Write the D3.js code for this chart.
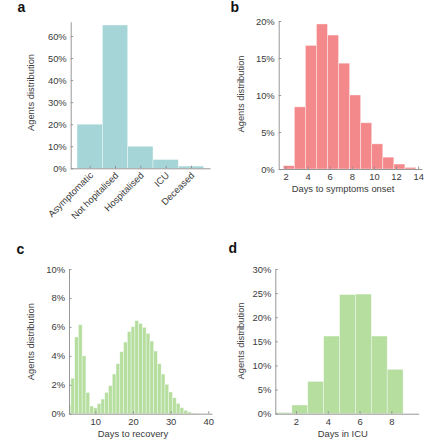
<!DOCTYPE html>
<html><head><meta charset="utf-8">
<script src="https://cdn.jsdelivr.net/npm/d3@7"></script>
<style>
body{margin:0;background:#fff;}
svg{display:block;font-family:"Liberation Sans",Arial,sans-serif;}
</style></head>
<body>
<svg id="chart" width="424" height="440"></svg>
<script>
// ---- data ----
const outcomeCategories = ["Asymptomatic","Not hopitalised","Hospitalised","ICU","Deceased"];
const outcomeValues = [20, 65, 10, 4, 1];

const onsetDays = [2,3,4,5,6,7,8,9,10,11,12,13];
const onsetValues = [0.45,8.4,16.7,19.6,18.1,14.3,10.0,6.25,3.4,1.6,0.67,0.22];

const recoveryDays = [3,4,5,6,7,8,9,10,11,12,13,14,15,16,17,18,19,20,21,22,23,24,25,26,27,28,29,30,31,32,33,34,35,36,37,38,39,40];
const recoveryValues = [0.6,2.45,5.3,6.15,4.0,1.47,0.53,0.41,0.69,1.01,1.47,1.94,2.74,3.46,4.29,4.95,5.67,6.01,6.43,6.24,5.97,5.55,5.02,4.33,3.46,2.74,2.03,1.5,1.1,0.71,0.41,0.23,0.12,0.05,0.03,0.02,0.01,0.01];

const icuDays = [1,2,3,4,5,6,7,8];
const icuValues = [0.25,1.8,6.7,16.1,24.7,24.8,16.1,9.2];

const ticksA = [0,10,20,30,40,50,60];
const ticksB = [0,5,10,15,20];
const ticksC = [0,2,4,6,8,10];
const ticksD = [0,5,10,15,20,25,30];
const xTicksB = [2,4,6,8,10,12,14];
const xTicksC = [10,20,30,40];
const xTicksD = [2,4,6,8];

// ---- styling ----
const svg = d3.select("#chart");
const axisColor = "#8c8c8c";
const textColor = "#3a3a3a";
const fs = 9.4;

function styleAxis(g){
  g.select(".domain").attr("stroke", axisColor).attr("stroke-width", 0.9);
  g.selectAll(".tick line").attr("stroke", axisColor).attr("stroke-width", 0.9);
  g.selectAll(".tick text").attr("fill", textColor).attr("font-size", fs).attr("font-family", '"Liberation Sans",Arial,sans-serif');
}

function panel(opts){
  const x = d3.scaleLinear().domain(opts.xDomain).range(opts.xRange);
  const y = d3.scaleLinear().domain(opts.yDomain).range(opts.yRange);
  const g = svg.append("g");
  // bars
  g.selectAll("rect.bar").data(opts.data).join("rect")
    .attr("class","bar")
    .attr("x", d => x(Math.max(opts.xDomain[0], d.k + opts.off)))
    .attr("width", d => x(d.k + opts.off + 1) - x(Math.max(opts.xDomain[0], d.k + opts.off)))
    .attr("y", d => y(d.v))
    .attr("height", d => y(0) - y(d.v))
    .attr("fill", opts.color)
    .attr("stroke", "#ffffff").attr("stroke-opacity", 0.55).attr("stroke-width", 0.7);
  // y axis
  const ya = g.append("g").attr("transform", `translate(${opts.xRange[0]},0)`)
    .call(d3.axisLeft(y).tickValues(opts.yTicks).tickFormat(d => d + "%").tickSizeInner(-2.5).tickSizeOuter(0).tickPadding(4));
  styleAxis(ya);
  // x axis
  const xa = g.append("g").attr("transform", `translate(0,${opts.yRange[0]})`)
    .call(d3.axisBottom(x).tickValues(opts.xTicks).tickFormat(opts.xFormat || (d => d)).tickSizeInner(-2.5).tickSizeOuter(0).tickPadding(opts.xPad || 4.3));
  styleAxis(xa);
  // y title
  svg.append("text")
    .attr("transform", `translate(${opts.yTitleX},${opts.yTitleY}) rotate(-90)`)
    .attr("text-anchor","middle").attr("font-size", fs).attr("fill", textColor)
    .text("Agents distribution");
  if (opts.xTitle){
    svg.append("text").attr("x", opts.xTitleX).attr("y", opts.xTitleY)
      .attr("text-anchor","middle").attr("font-size", fs).attr("fill", textColor)
      .text(opts.xTitle);
  }
  svg.append("text").attr("x", opts.labelX).attr("y", opts.labelY)
    .attr("font-size", 14).attr("font-weight","bold").attr("fill","#111")
    .text(opts.label);
  return {x, y, g};
}

// panel a
const pa = panel({
  data: outcomeValues.map((v,i)=>({k:i+1, v})),
  off: -0.5,
  xDomain:[0.25,5.75], xRange:[70.7,210],
  yDomain:[0,66.5], yRange:[168.3,21.7],
  yTicks: ticksA, xTicks:[1,2,3,4,5], xFormat: () => "",
  color:"#a5d5d7",
  yTitleX:34, yTitleY:92.5,
  label:"a", labelX:17.5, labelY:11.7
});
pa.g.selectAll("text.cat").data(outcomeCategories).join("text")
  .attr("class","cat")
  .attr("transform", (d,i) => `translate(${pa.x(i+1)+4},${176}) rotate(-45)`)
  .attr("text-anchor","end").attr("font-size", fs).attr("fill", textColor)
  .text(d => d);

// panel b
panel({
  data: onsetDays.map((k,i)=>({k, v:onsetValues[i]})),
  off: -0.2,
  xDomain:[1.385,14.35], xRange:[278.7,422],
  yDomain:[0,20], yRange:[169,21],
  yTicks: ticksB, xTicks: xTicksB,
  color:"#f4898c",
  yTitleX:243.5, yTitleY:94,
  xTitle:"Days to symptoms onset", xTitleX:343, xTitleY:192,
  label:"b", labelX:230.5, labelY:11.7
});

// panel c
panel({
  data: recoveryDays.map((k,i)=>({k, v:recoveryValues[i]})),
  off: -0.5,
  xDomain:[3,41], xRange:[69,212],
  yDomain:[0,10], yRange:[413.7,269],
  yTicks: ticksC, xTicks: xTicksC,
  color:"#b5de9f",
  yTitleX:34, yTitleY:341.7,
  xTitle:"Days to recovery", xTitleX:133, xTitleY:437,
  label:"c", labelX:16.5, labelY:253.5
});

// panel d
panel({
  data: icuDays.map((k,i)=>({k, v:icuValues[i]})),
  off: -0.26,
  xDomain:[0.7,9.72], xRange:[275.3,418.7],
  yDomain:[0,30], yRange:[413.7,269],
  yTicks: ticksD, xTicks: xTicksD,
  color:"#b5de9f",
  yTitleX:243.5, yTitleY:341,
  xTitle:"Days in ICU", xTitleX:342.7, xTitleY:437,
  label:"d", labelX:228.5, labelY:253.3
});
</script>
</body></html>
